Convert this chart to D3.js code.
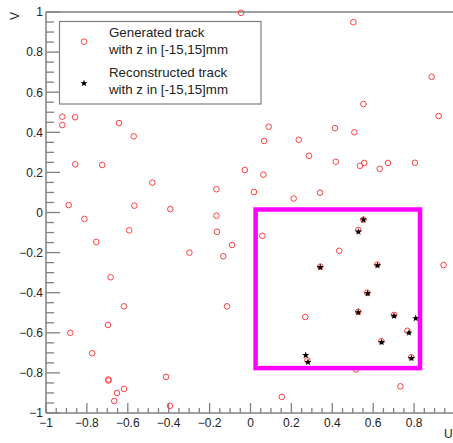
<!DOCTYPE html>
<html><head><meta charset="utf-8">
<script src="https://cdn.jsdelivr.net/npm/d3@7"></script>
<style>html,body{margin:0;padding:0;background:#fff;overflow:hidden}svg{display:block}</style>
</head><body>
<script>
// Generated tracks (U, V)
const genU = [-0.046,0.503,0.886,0.552,0.920,-0.920,-0.858,-0.920,-0.643,-0.571,-0.857,-0.725,-0.480,-0.167,-0.889,-0.568,-0.392,-0.167,-0.812,-0.593,-0.164,-0.754,-0.090,-0.299,-0.133,-0.684,-0.619,-0.115,-0.697,-0.881,-0.774,-0.695,-0.694,-0.413,-0.618,-0.653,-0.666,-0.394,0.153,0.733,0.516,0.089,0.413,0.508,0.067,0.236,0.286,0.417,0.535,0.556,0.632,0.672,0.804,-0.028,0.063,0.017,0.211,0.340,0.944,0.058,0.434,0.268,0.552,0.527,0.341,0.620,0.571,0.527,0.702,0.767,0.640,0.278,0.786];
const genV = [0.996,0.949,0.677,0.541,0.481,0.478,0.475,0.436,0.446,0.380,0.240,0.237,0.149,0.116,0.037,0.034,0.017,-0.016,-0.032,-0.089,-0.096,-0.147,-0.162,-0.200,-0.218,-0.323,-0.468,-0.468,-0.561,-0.600,-0.702,-0.833,-0.838,-0.820,-0.880,-0.900,-0.940,-0.964,-0.920,-0.867,-0.783,0.428,0.421,0.400,0.357,0.363,0.283,0.253,0.233,0.247,0.218,0.247,0.248,0.212,0.189,0.102,0.070,0.099,-0.262,-0.116,-0.191,-0.521,-0.036,-0.087,-0.270,-0.260,-0.400,-0.495,-0.511,-0.590,-0.642,-0.737,-0.722];
// Reconstructed tracks (U, V)
const recU = [0.552,0.528,0.341,0.621,0.573,0.527,0.702,0.775,0.641,0.281,0.270,0.787,0.808];
const recV = [-0.036,-0.096,-0.273,-0.264,-0.404,-0.498,-0.516,-0.600,-0.647,-0.746,-0.712,-0.727,-0.528];
// Highlight box corners (U, V)
const boxU = [0.025, 0.829];
const boxV = [0.015, -0.776];
// Axis ticks and labels (x axis: the U = 1 label lies outside the visible area)
const xMajorTicks = [-1,-0.8,-0.6,-0.4,-0.2,0,0.2,0.4,0.6,0.8];
const yMajorTicks = [-1,-0.8,-0.6,-0.4,-0.2,0,0.2,0.4,0.6,0.8,1];
const xTickLabels = ["\u22121","\u22120.8","\u22120.6","\u22120.4","\u22120.2","0","0.2","0.4","0.6","0.8"];
const yTickLabels = ["\u22121","\u22120.8","\u22120.6","\u22120.4","\u22120.2","0","0.2","0.4","0.6","0.8","1"];
const legendLabels = [["Generated track","with z in [-15,15]mm"],["Reconstructed track","with z in [-15,15]mm"]];
const axisTitles = ["U","V"];

const W = 453, H = 443;
const svg = d3.select("body").append("svg").attr("width", W).attr("height", H);
const font = "'Liberation Sans', Arial, Helvetica, sans-serif";
const x = d3.scaleLinear().domain([-1, 1]).range([46, 455]);
const y = d3.scaleLinear().domain([-1, 1]).range([413, 12]);
const axisCol = "#808080";

// frame (top line; right side out of view)
svg.append("line").attr("x1", x(-1)).attr("x2", x(1)).attr("y1", y(1)).attr("y2", y(1))
  .attr("stroke", axisCol).attr("stroke-width", 1.5);
svg.append("line").attr("x1", x(1)).attr("x2", x(1)).attr("y1", y(1)).attr("y2", y(-1))
  .attr("stroke", axisCol).attr("stroke-width", 1.5);

// minor ticks
const minor = d3.range(0, 41).map(i => -1 + i * 0.05);
const gx = svg.append("g"), gy = svg.append("g");
gx.selectAll("line.mn").data(minor).join("line")
  .attr("x1", d => x(d)).attr("x2", d => x(d))
  .attr("y1", y(-1)).attr("y2", (d, i) => y(-1) - (i % 4 === 0 ? 10 : 5))
  .attr("stroke", axisCol).attr("stroke-width", 1.3);
gy.selectAll("line.mn").data(minor).join("line")
  .attr("y1", d => y(d)).attr("y2", d => y(d))
  .attr("x1", x(-1)).attr("x2", (d, i) => x(-1) + (i % 4 === 0 ? 14 : 8))
  .attr("stroke", axisCol).attr("stroke-width", 1.3);
// axis lines
svg.append("line").attr("x1", x(-1)).attr("x2", x(1)).attr("y1", y(-1)).attr("y2", y(-1))
  .attr("stroke", axisCol).attr("stroke-width", 1.5);
svg.append("line").attr("x1", x(-1)).attr("x2", x(-1)).attr("y1", y(-1)).attr("y2", y(1))
  .attr("stroke", axisCol).attr("stroke-width", 1.5);

// tick labels
gx.selectAll("text").data(xMajorTicks).join("text")
  .attr("x", d => x(d)).attr("y", 426.5).attr("text-anchor", "middle")
  .attr("font-family", font).attr("font-size", 12).attr("fill", "#222")
  .text((d, i) => xTickLabels[i]);
gy.selectAll("text").data(yMajorTicks).join("text")
  .attr("x", 43).attr("y", d => y(d) + 4.3).attr("text-anchor", "end")
  .attr("font-family", font).attr("font-size", 12).attr("fill", "#222")
  .text((d, i) => yTickLabels[i]);
// axis titles
svg.append("text").attr("x", 444).attr("y", 438).attr("text-anchor", "start")
  .attr("font-family", font).attr("font-size", 12).attr("fill", "#222").text(axisTitles[0]);
svg.append("text").attr("transform", "translate(18.5,12) rotate(-90)").attr("text-anchor", "end")
  .attr("font-family", font).attr("font-size", 12).attr("fill", "#222").text(axisTitles[1]);

// generated points
const gen = genU.map((u, i) => ({u, v: genV[i]}));
svg.append("g").selectAll("circle").data(gen).join("circle")
  .attr("cx", d => x(d.u)).attr("cy", d => y(d.v)).attr("r", 2.8)
  .attr("fill", "none").attr("stroke", "#ff4040").attr("stroke-width", 1);

// magenta box
svg.append("rect")
  .attr("x", x(boxU[0])).attr("y", y(boxV[0]))
  .attr("width", x(boxU[1]) - x(boxU[0])).attr("height", y(boxV[1]) - y(boxV[0]))
  .attr("fill", "none").attr("stroke", "#ff00ff").attr("stroke-width", 4.5);

// reconstructed points
const rec = recU.map((u, i) => ({u, v: recV[i]}));
const star = d3.symbol().type(d3.symbolStar).size(16);
const dotG = svg.append("g");
dotG.selectAll("path").data(rec).join("path")
  .attr("transform", d => `translate(${x(d.u)},${y(d.v)})`)
  .attr("d", star).attr("fill", "#000");
dotG.selectAll("circle").data(rec).join("circle")
  .attr("cx", d => x(d.u)).attr("cy", d => y(d.v)).attr("r", 1.6).attr("fill", "#000");

// legend
const lg = svg.append("g");
lg.append("rect").attr("x", 59.5).attr("y", 21.5).attr("width", 201.5).attr("height", 82.5)
  .attr("fill", "#fff").attr("stroke", axisCol).attr("stroke-width", 1.2);
lg.append("circle").attr("cx", 84).attr("cy", 41.7).attr("r", 2.8)
  .attr("fill", "none").attr("stroke", "#ff4040").attr("stroke-width", 1);
lg.append("path").attr("transform", "translate(84,83.3)").attr("d", star).attr("fill", "#000");
lg.append("circle").attr("cx", 84).attr("cy", 83.3).attr("r", 1.6).attr("fill", "#000");
const lineY = [[36.7, 54], [77, 93.5]];
legendLabels.forEach((lines, k) => {
  lines.forEach((t, j) => {
    lg.append("text").attr("x", 109).attr("y", lineY[k][j])
      .attr("font-family", font).attr("font-size", 13.3).attr("fill", "#222").text(t);
  });
});
</script>
</body></html>
